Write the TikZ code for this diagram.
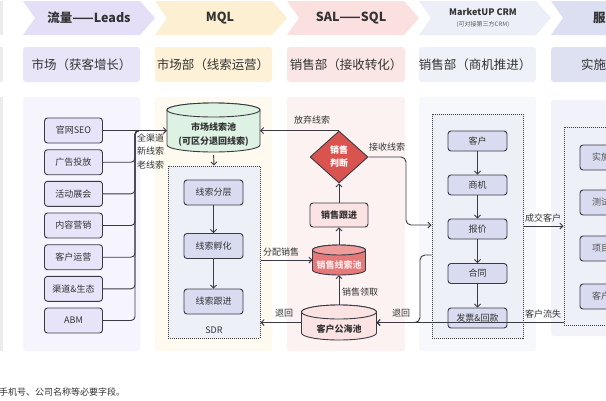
\documentclass[tikz,border=0pt]{standalone}
\usepackage{fontspec}
\setmainfont{Noto Sans CJK SC}
\usetikzlibrary{arrows.meta,shapes.geometric,calc}
\definecolor{dk}{HTML}{3A3A44}
\definecolor{txt}{HTML}{333333}
\definecolor{pA}{HTML}{E4DFF7}
\definecolor{pB}{HTML}{E9E5F8}
\definecolor{pC}{HTML}{F6F4FC}
\definecolor{yA}{HTML}{FCEFD2}
\definecolor{yB}{HTML}{FDF1D7}
\definecolor{yC}{HTML}{FFFAEF}
\definecolor{rA}{HTML}{FBE0E0}
\definecolor{rB}{HTML}{FBE6E6}
\definecolor{rC}{HTML}{FDF2F2}
\definecolor{bA}{HTML}{EDEFF8}
\definecolor{bB}{HTML}{EFF1F8}
\definecolor{bC}{HTML}{F7F8FC}
\definecolor{cA}{HTML}{DCDFF2}
\definecolor{cB}{HTML}{DEE1F2}
\definecolor{cC}{HTML}{F2F3FA}
\definecolor{gL}{HTML}{ECECEF}
\definecolor{lbx}{HTML}{E7E3F8}
\definecolor{sbx}{HTML}{D9DCF0}
\definecolor{dotf}{HTML}{EEF0F8}
\definecolor{mint}{HTML}{DDF2E3}
\definecolor{dred}{HTML}{D9534F}
\definecolor{salm}{HTML}{E57878}
\definecolor{salmtop}{HTML}{EE9C9C}
\definecolor{pinkf}{HTML}{FBE3E3}
\newcommand\chev[2]{\fill[#2] (#1,1) -- (#1+117,1) -- (#1+132,18) -- (#1+117,35) -- (#1,35) -- (#1+12,18) -- cycle;}
\newcommand\cylshape[7]{%
  \filldraw[fill=#6, draw=dk, line width=0.9pt] (#1-#2,#3) -- (#1-#2,#4)
    arc[start angle=180,end angle=360,x radius=#2pt,y radius=#5pt] -- (#1+#2,#3)
    arc[start angle=0,end angle=180,x radius=#2pt,y radius=#5pt] -- cycle;
  \filldraw[fill=#7, draw=dk, line width=0.9pt] (#1,#3) ellipse[x radius=#2pt, y radius=#5pt];}
\tikzset{
  ln/.style={draw=dk, line width=0.9pt},
  arr/.style={ln, -{Straight Barb[length=3pt,width=6pt]}},
  lab/.style={inner sep=0, text=txt, font=\fontsize{9}{11}\selectfont},
  head/.style={inner sep=0, text=txt, font=\fontsize{12.5}{14}\selectfont\bfseries},
  dept/.style={inner sep=0, text=txt, font=\fontsize{12.5}{14}\selectfont},
  lbox/.style={draw=dk, line width=0.9pt, rounded corners=3pt, fill=lbx, minimum width=58pt, minimum height=25pt, inner sep=0, text=txt, font=\fontsize{9}{11}\selectfont},
  sbox/.style={draw=dk, line width=0.9pt, rounded corners=3pt, fill=sbx, minimum width=59pt, minimum height=25pt, inner sep=0, text=txt, font=\fontsize{9}{11}\selectfont},
  cbox/.style={sbox, minimum height=20pt},
  dotbox/.style={draw=dk, densely dotted, line width=1pt, fill=dotf, inner sep=0},
  blank/.style={inner sep=0, outer sep=0},
}
\begin{document}
\begin{tikzpicture}[x=1pt,y=-1pt]
\useasboundingbox (0,0) rectangle (606,400);
\begin{scope}
\clip (0,0) rectangle (606,400);
\fill[white] (0,0) rectangle (606,400);
% left sliver
\fill[gL] (-20,1) rectangle (3,35);
\fill[gL] (-20,47) rectangle (3,82);
\fill[gL] (-20,97) rectangle (3,351);
% header chevrons
\chev{23}{pA}
\chev{155}{yA}
\chev{287}{rA}
\chev{419}{bA}
\chev{551}{cA}
\node[head] (h1) at (89,18) {流量——Leads};
\node[head] (h2) at (220,18) {MQL};
\node[head] (h3) at (351,18) {SAL——SQL};
\node[inner sep=0, text=txt, font=\fontsize{9}{11}\selectfont\bfseries] (h4) at (483,12) {MarketUP CRM};
\node[inner sep=0, text=txt!80, font=\fontsize{6}{7}\selectfont] (h4s) at (483,24.5) {(可对接第三方CRM)};
\node[head, anchor=west] (h5) at (593,18) {服};
% department boxes
\fill[pB, rounded corners=3pt] (23,47) rectangle (140,82);
\fill[yB, rounded corners=3pt] (155,47) rectangle (272,82);
\fill[rB, rounded corners=3pt] (287,47) rectangle (405,82);
\fill[bB, rounded corners=3pt] (419,47) rectangle (536,82);
\fill[cB, rounded corners=3pt] (551,47) rectangle (680,82);
\node[dept] (d1) at (81.5,65) {市场（获客增长）};
\node[dept] (d2) at (213,65) {市场部（线索运营）};
\node[dept] (d3) at (346,65) {销售部（接收转化）};
\node[dept] (d4) at (475,65) {销售部（商机推进）};
\node[dept, anchor=west] (d5) at (581,65) {实施};
% column backgrounds
\fill[pC, rounded corners=3pt] (23,97) rectangle (140,351);
\fill[yC, rounded corners=3pt] (155,97) rectangle (272,351);
\fill[rC, rounded corners=3pt] (287,97) rectangle (405,351);
\fill[bC, rounded corners=3pt] (419,97) rectangle (536,351);
\fill[cC, rounded corners=3pt] (551,100) rectangle (680,336);
% left boxes
\node[lbox] (b1) at (73.5,130.5) {官网SEO};
\node[lbox] (b2) at (73.5,162.2) {广告投放};
\node[lbox] (b3) at (73.5,193.8) {活动展会};
\node[lbox] (b4) at (73.5,225.5) {内容营销};
\node[lbox] (b5) at (73.5,257.2) {客户运营};
\node[lbox] (b6) at (73.5,288.8) {渠道\&生态};
\node[lbox] (b7) at (73.5,320.5) {ABM};
\coordinate (bus) at (135,130.5);
% market pool
\cylshape{213.5}{46.5}{110}{145}{7}{mint}{mint}
\node[blank, minimum width=93pt, minimum height=49pt] (mpool) at (213.5,127.5) {};
\node[inner sep=0, text=txt, font=\fontsize{9}{14}\selectfont\bfseries, align=center] (mpt) at (213.5,135) {市场线索池\\(可区分退回线索)};
\draw[arr] (b1.east) -- (b1.east -| mpool.west);
\foreach \k in {2,...,7}{\draw[ln, rounded corners=4pt] (b\k.east) -| (bus) -- ++(10,0);}
\node[lab, anchor=west] (l1) at (137,138) {全渠道};
\node[lab, anchor=west] (l2) at (137,151.5) {新线索};
\node[lab, anchor=west] (l3) at (137,165) {老线索};
% SDR
\node[dotbox, minimum width=92pt, minimum height=172pt] (sdr) at (214,252) {};
\node[lab] (sdrl) at (214,330) {SDR};
\draw[arr, shorten <=3pt] (mpool.south) -- (sdr.north);
\node[sbox] (s1) at (213.5,192.5) {线索分层};
\node[sbox] (s2) at (213.5,246) {线索孵化};
\node[sbox] (s3) at (213.5,301.5) {线索跟进};
\draw[arr] (s1.south) -- (s2.north);
\draw[arr] (s2.south) -- (s3.north);
% sales column
\node[diamond, draw=dk, fill=dred, line width=0.9pt, minimum width=58pt, minimum height=52pt, inner sep=0, aspect=1.1, text=white, font=\fontsize{9}{13}\selectfont\bfseries, align=center] (judge) at (339,157) {销售\\判断};
\draw[arr] (judge.north) -- (judge.north -| mpool.east);
\node[lab] (lgive) at (312,120) {放弃线索};
\node[draw=dk, line width=0.9pt, rounded corners=3pt, fill=pinkf, minimum width=58pt, minimum height=24pt, inner sep=0, text=txt, font=\fontsize{9}{11}\selectfont\bfseries] (follow) at (339,215) {销售跟进};
\draw[arr] (follow.north) -- (judge.south);
\cylshape{339}{26.5}{250}{270}{5}{salm}{salmtop}
\node[blank, minimum width=53pt, minimum height=30pt] (spool) at (339,260) {};
\node[inner sep=0, text=white!92!red, font=\fontsize{9}{11}\selectfont\bfseries] (spt) at (339,265) {销售线索池};
\draw[arr] (spool.north) -- (follow.south);
\cylshape{339}{37.5}{312}{333}{7}{pinkf}{pinkf}
\node[blank, minimum width=75pt, minimum height=35pt] (gpool) at (339,322.5) {};
\node[inner sep=0, text=txt, font=\fontsize{9}{11}\selectfont\bfseries] (gpt) at (339,329) {客户公海池};
\draw[arr] (gpool.north) -- (spool.south);
\node[lab, anchor=west] (lget) at (342,292) {销售领取};
\draw[arr] (sdr.east |- spool.west) -- (spool.west);
\node[lab] (lassign) at (281,252) {分配销售};
\draw[arr] (gpool.west) -- (gpool.west -| sdr.east);
\node[lab] (lback1) at (284,313) {退回};
% CRM
\node[dotbox, minimum width=91pt, minimum height=224pt] (crm) at (477.5,226) {};
\node[cbox] (c1) at (477.5,141) {客户};
\node[cbox] (c2) at (477.5,185) {商机};
\node[cbox] (c3) at (477.5,229) {报价};
\node[cbox] (c4) at (477.5,273.5) {合同};
\node[cbox] (c5) at (477.5,318) {发票\&回款};
\draw[arr] (c1.south) -- (c2.north);
\draw[arr] (c2.south) -- (c3.north);
\draw[arr] (c3.south) -- (c4.north);
\draw[arr] (c4.south) -- (c5.north);
\coordinate (recv) at (406,225);
\draw[arr, rounded corners=5pt] (judge.east) -| (recv) -- (recv -| crm.west);
\node[lab] (lrecv) at (387,147) {接收线索};
% service
\node[dotbox, minimum width=96pt, minimum height=198pt] (svc) at (612,226) {};
\node[sbox, minimum width=80pt] (v1) at (620,157.5) {};
\node[sbox, minimum width=80pt] (v2) at (620,202.5) {};
\node[sbox, minimum width=80pt] (v3) at (620,248.5) {};
\node[sbox, minimum width=80pt] (v4) at (620,296.5) {};
\node[lab, anchor=west, text=txt!85] (v1t) at (592,157.5) {实施};
\node[lab, anchor=west, text=txt!85] (v2t) at (592,202.5) {测试};
\node[lab, anchor=west, text=txt!85] (v3t) at (592,248.5) {项目};
\node[lab, anchor=west, text=txt!85] (v4t) at (592,296.5) {客户};
\draw[arr] (crm.east |- svc.west) -- (svc.west);
\node[lab] (ldeal) at (543,218) {成交客户};
\coordinate (ret) at (420,255);
\draw[arr, rounded corners=5pt] (ret -| crm.west) -- (ret) |- (gpool.east);
\node[lab] (lback2) at (401,313) {退回};
\draw[arr] (svc.west |- gpool.east) -- (gpool.east);
\node[lab] (llost) at (543,314) {客户流失};
% bottom note
\node[inner sep=0, anchor=west, text=txt, font=\fontsize{9}{10}\selectfont] (note) at (-1,392) {手机号、公司名称等必要字段。};
\end{scope}
\end{tikzpicture}
\end{document}
